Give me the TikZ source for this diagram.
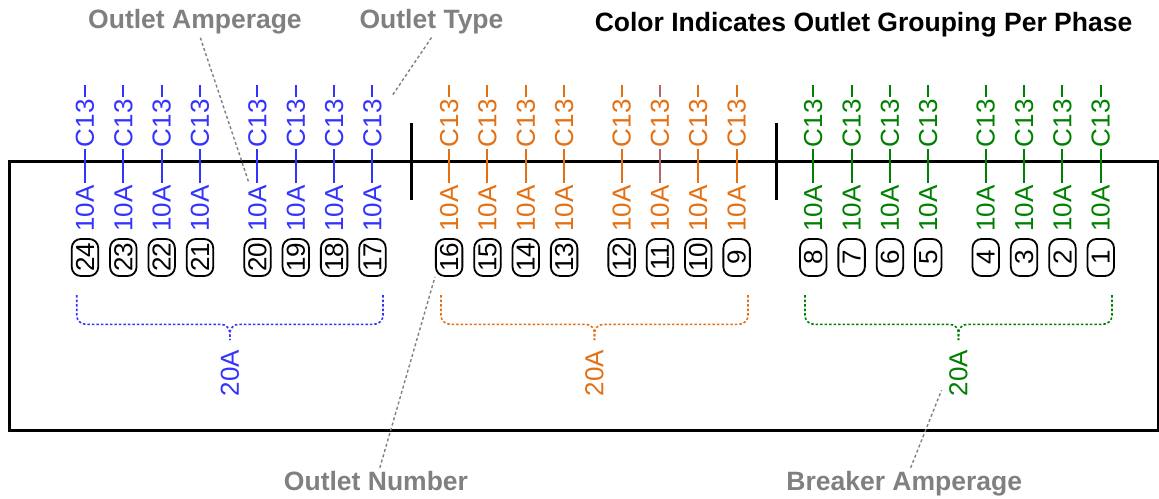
\documentclass[tikz,border=0pt]{standalone}
\usepackage{fontspec}
\setmainfont{Liberation Sans}

\definecolor{phaseA}{RGB}{51,51,255}
\definecolor{phaseB}{RGB}{228,112,20}
\definecolor{phaseC}{RGB}{0,128,0}
\definecolor{notegray}{RGB}{128,128,128}
\definecolor{oddline}{RGB}{184,102,110}

\begin{document}
\begin{tikzpicture}[x=1pt, y=-1pt]
    \tikzstyle{outlet}=[rotate=90, inner sep=2pt, font=\fontsize{26}{30}\selectfont];
    \tikzstyle{num}=[draw, rounded corners=9pt, line width=1.8pt, rotate=90, minimum width=37pt, minimum height=26.5pt, inner sep=0pt, font=\fontsize{26}{30}\selectfont];
    \tikzstyle{note}=[anchor=base, text=notegray, font=\bfseries\fontsize{26.5}{30}\selectfont];
    \tikzstyle{leader}=[draw=notegray, line width=1.4pt, dash pattern=on 3pt off 2.5pt];
    \tikzstyle{groupbrace}=[line width=1.6pt, dash pattern=on 2.5pt off 2pt, rounded corners=9pt];

    \useasboundingbox (0,0) rectangle (1159,498);

    % enclosure and phase separators
    \draw[line width=3pt] (9,161.7) rectangle (1158.5,430);
    \draw[line width=3pt] (411.7,123.3) -- (411.7,200);
    \draw[line width=3pt] (776.7,123.3) -- (776.7,200);

    % outlets, one phase at a time
    \foreach \first/\off/\col in {24/0/phaseA, 16/9.5/phaseB, 8/19/phaseC} {
      \foreach \i in {0,...,7} {
        \pgfmathsetmacro\px{85+38.33*(\off+\i+0.5*(\i>3))}
        \pgfmathtruncatemacro\n{\first-\i}
        \node[outlet, text=\col] (amp\n) at (\px,208.5) {10A};
        \node[outlet, text=\col] (type\n) at (\px,123.3) {C13};
        \coordinate (top\n) at (\px,85);
        \node[num] (num\n) at (\px,257.5) {\n};
        \draw[\col, line width=2pt] (amp\n) -- (type\n) (type\n) -- (top\n);
      }
    }
    \draw[oddline, line width=2pt] (amp11) -- (type11) (type11) -- (top11);

    % breakers
    \foreach \lx/\rx/\col/\ph in {76.7/383/phaseA/A, 441/748/phaseB/B, 805/1112/phaseC/C} {
      \pgfmathsetmacro\bx{(\lx+\rx)/2}
      \draw[groupbrace, \col] (\lx,295) -- (\lx,324.3) -- (\bx,324.3) -- (\bx,340);
      \draw[groupbrace, \col] (\rx,295) -- (\rx,324.3) -- (\bx,324.3) -- (\bx,340);
      \node[outlet, text=\col] (breaker\ph) at (\bx,373.3) {20A};
    }

    % labels
    \node[note] (amplabel) at (195,28.5) {Outlet Amperage};
    \node[note] (typelabel) at (431.5,28.5) {Outlet Type};
    \node[anchor=base, font=\bfseries\fontsize{26.5}{30}\selectfont] (title) at (863.5,31.5) {Color Indicates Outlet Grouping Per Phase};
    \node[note] (numlabel) at (376,490.5) {Outlet Number};
    \node[note] (brklabel) at (904.3,490.5) {Breaker Amperage};

    \coordinate (typetip) at ([shift={(20,-2)}]type17.east);
    \coordinate (brktip) at ([shift={(-17,17)}]breakerC.center);

    \draw[leader] (amplabel) -- (amp20);
    \draw[leader] (typelabel.south) -- (typetip);
    \draw[leader] (numlabel) -- (num16.north west);
    \draw[leader] (brklabel) -- (brktip);
\end{tikzpicture}
\end{document}
